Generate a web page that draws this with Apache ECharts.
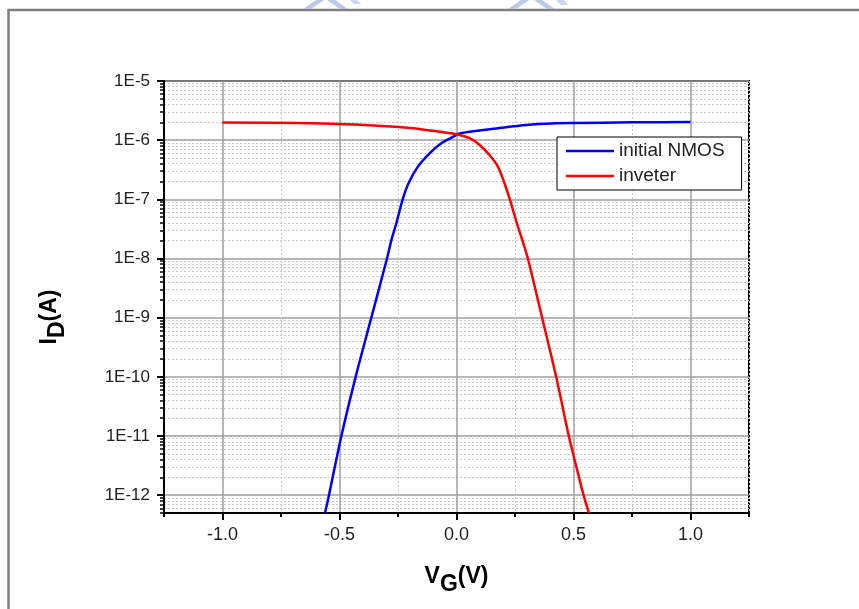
<!DOCTYPE html>
<html>
<head>
<meta charset="utf-8">
<script src="https://cdn.jsdelivr.net/npm/echarts@6/dist/echarts.min.js"></script>
<style>
  html, body { margin: 0; padding: 0; background: #fff; }
  #chart { width: 859px; height: 609px; }
</style>
</head>
<body>
<div id="chart"></div>
<script>
// Transfer curves: drain current vs. gate voltage
const vgNmos = [-0.562, -0.545, -0.492, -0.431, -0.364, -0.297, -0.278, -0.257, -0.230, -0.205, -0.165, -0.115, -0.065, -0.008, 0.0, 0.056, 0.17, 0.298, 0.426, 0.5, 0.75, 1.0];
const idNmos = [5.0e-13, 1e-12, 1e-11, 1e-10, 1e-9, 1e-8, 2.06e-8, 3.94e-8, 1e-7, 1.87e-7, 3.57e-7, 6.0e-7, 8.9e-7, 1.18e-6, 1.26e-6, 1.39e-6, 1.58e-6, 1.81e-6, 1.93e-6, 1.95e-6, 2.0e-6, 2.03e-6];

const vgInv = [-1.0, -0.68, -0.44, -0.297, -0.197, -0.112, -0.055, 0.0, 0.056, 0.099, 0.141, 0.177, 0.205, 0.228, 0.258, 0.281, 0.305, 0.366, 0.426, 0.480, 0.519, 0.543, 0.566];
const idInv = [1.98e-6, 1.95e-6, 1.84e-6, 1.72e-6, 1.60e-6, 1.46e-6, 1.36e-6, 1.26e-6, 1.08e-6, 8.3e-7, 5.6e-7, 3.57e-7, 1.87e-7, 1.0e-7, 3.94e-8, 2.06e-8, 1e-8, 1e-9, 1e-10, 1e-11, 2.36e-12, 1e-12, 5.0e-13];

// Axis ticks
const xMajorTicks = [-1.0, -0.5, 0.0, 0.5, 1.0];
const xMinorTicks = [-1.25, -0.75, -0.25, 0.25, 0.75, 1.25];
const yMajorTicks = [1e-12, 1e-11, 1e-10, 1e-9, 1e-8, 1e-7, 1e-6, 1e-5];
const yMinorMantissas = [2, 3, 4, 5, 6, 7, 8, 9];
const yMin = 5e-13, yMax = 1e-5;

const yMinorTicks = [];
for (let e = -13; e <= -6; e++) {
  yMinorMantissas.forEach(m => {
    const v = m * Math.pow(10, e);
    if (v >= yMin * 0.999 && v < yMax) yMinorTicks.push(v);
  });
}

const FONT = 'Liberation Sans, Arial, sans-serif';
const rect = { left: 164, top: 81, width: 585, height: 432 };

const chart = echarts.init(document.getElementById('chart'), null, { renderer: 'canvas' });

const titleRich = {
  a: { fontFamily: FONT, fontSize: 23, fontWeight: 'bold', color: '#000', lineHeight: 26, verticalAlign: 'top' },
  b: { fontFamily: FONT, fontSize: 23, fontWeight: 'bold', color: '#000', lineHeight: 26, verticalAlign: 'top', padding: [8, 0, 0, 0] }
};

const lineSeries = (name, xs, ys, color) => ({
  name,
  type: 'line',
  xAxisIndex: 0,
  yAxisIndex: 0,
  data: xs.map((v, i) => [v, ys[i]]),
  showSymbol: false,
  symbol: 'none',
  smooth: 0.3,
  clip: true,
  lineStyle: { color, width: 2.5 },
  itemStyle: { color },
  z: 3
});

chart.setOption({
  backgroundColor: '#fff',
  animation: false,
  grid: [
    Object.assign({ show: true, borderColor: '#000', borderWidth: 2, backgroundColor: 'transparent' }, rect),
    Object.assign({ show: false }, rect)
  ],
  legend: {
    orient: 'vertical',
    left: 557,
    top: 137,
    padding: [4, 17, 4, 9],
    icon: 'rect',
    itemWidth: 48,
    itemHeight: 2.5,
    itemGap: 5,
    borderColor: '#000',
    borderWidth: 1,
    borderRadius: 0,
    backgroundColor: '#fff',
    textStyle: { fontFamily: FONT, fontSize: 19, color: '#222', lineHeight: 20 },
    data: ['initial NMOS', 'inveter']
  },
  xAxis: [
    {
      gridIndex: 0,
      type: 'value',
      min: -1.25,
      max: 1.25,
      name: '{a|V}{b|G}{a|(V)}',
      nameLocation: 'middle',
      nameGap: 52,
      nameTextStyle: { rich: titleRich },
      axisLine: { show: true, onZero: false, lineStyle: { color: '#000', width: 2 } },
      axisTick: { show: true, customValues: xMajorTicks, length: 7, lineStyle: { color: '#000', width: 2 } },
      axisLabel: {
        customValues: xMajorTicks,
        margin: 13,
        fontFamily: FONT, fontSize: 18, color: '#222',
        formatter: v => v.toFixed(1)
      },
      splitLine: { show: true, lineStyle: { color: '#9e9e9e', width: 1.5 } }
    },
    {
      gridIndex: 1,
      type: 'value',
      min: -1.25,
      max: 1.25,
      axisLine: { show: true, onZero: false, lineStyle: { color: '#000', width: 2 } },
      axisTick: { show: true, customValues: xMinorTicks, length: 4, lineStyle: { color: '#000', width: 2 } },
      axisLabel: { show: false },
      splitLine: { show: true, lineStyle: { color: '#c8c8c8', width: 1, type: [2, 2] } }
    }
  ],
  yAxis: [
    {
      gridIndex: 0,
      type: 'log',
      logBase: 10,
      min: yMin,
      max: yMax,
      name: '{a|I}{b|D}{a|(A)}',
      nameLocation: 'middle',
      nameGap: 100,
      nameTextStyle: { rich: titleRich, padding: [0, 40, 0, 0] },
      axisLine: { show: true, onZero: false, lineStyle: { color: '#000', width: 2 } },
      axisTick: { show: true, customValues: yMajorTicks, length: 7, lineStyle: { color: '#000', width: 2 } },
      axisLabel: {
        customValues: yMajorTicks,
        margin: 14,
        fontFamily: FONT, fontSize: 17, color: '#222',
        formatter: v => '1E' + Math.round(Math.log10(v))
      },
      splitLine: { show: true, lineStyle: { color: '#9e9e9e', width: 1.5 } }
    },
    {
      gridIndex: 1,
      type: 'log',
      logBase: 10,
      min: yMin,
      max: yMax,
      axisLine: { show: true, onZero: false, lineStyle: { color: '#000', width: 2 } },
      axisTick: { show: true, customValues: yMinorTicks, length: 4, lineStyle: { color: '#000', width: 1.5 } },
      axisLabel: { show: false },
      splitLine: { show: true, lineStyle: { color: '#c8c8c8', width: 1, type: [2, 2] } }
    }
  ],
  series: [
    lineSeries('initial NMOS', vgNmos, idNmos, '#0000ff'),
    lineSeries('inveter', vgInv, idInv, '#ff0000')
  ],
  graphic: [
    // page frame
    { type: 'line', shape: { x1: 8, y1: 10, x2: 859, y2: 10 }, style: { stroke: '#808080', lineWidth: 2.5 }, silent: true },
    { type: 'line', shape: { x1: 8.5, y1: 9, x2: 8.5, y2: 609 }, style: { stroke: '#808080', lineWidth: 2.5 }, silent: true },
    // faint marks along the top edge
    { type: 'polygon', shape: { points: [[316, 0], [324, 0], [311, 9], [303, 9]] }, style: { fill: '#b9cae9' }, silent: true },
    { type: 'polygon', shape: { points: [[327, 0], [335, 0], [348, 9], [340, 9]] }, style: { fill: '#b9cae9' }, silent: true },
    { type: 'polygon', shape: { points: [[350, 0], [357, 0], [361, 4], [354, 4]] }, style: { fill: '#c8d6ef' }, silent: true },
    { type: 'polygon', shape: { points: [[521, 0], [529, 0], [516, 9], [508, 9]] }, style: { fill: '#b9cae9' }, silent: true },
    { type: 'polygon', shape: { points: [[534, 0], [542, 0], [555, 9], [547, 9]] }, style: { fill: '#b9cae9' }, silent: true },
    { type: 'polygon', shape: { points: [[556, 0], [564, 0], [568, 5], [561, 5]] }, style: { fill: '#c8d6ef' }, silent: true }
  ]
});
</script>
</body>
</html>
